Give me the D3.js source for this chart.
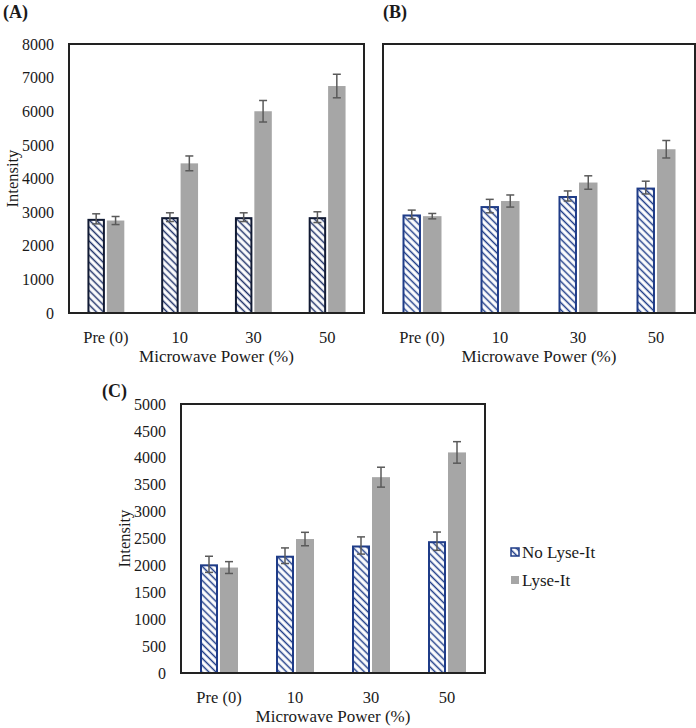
<!DOCTYPE html>
<html>
<head>
<meta charset="utf-8">
<script src="https://cdn.jsdelivr.net/npm/d3@7"></script>
<style>
  body { margin: 0; background: #fff; }
  svg { display: block; }
</style>
</head>
<body>
<svg id="chart" width="696" height="728"></svg>
<script>
// ---- data ----
const categories = ["Pre (0)", "10", "30", "50"];
const seriesNames = ["No Lyse-It", "Lyse-It"];

const panelA_noLyse = [2800, 2850, 2850, 2850];
const panelA_noLyseErr = [150, 130, 130, 160];
const panelA_lyse = [2750, 4450, 6000, 6750];
const panelA_lyseErr = [120, 220, 320, 350];

const panelB_noLyse = [2930, 3180, 3480, 3730];
const panelB_noLyseErr = [130, 200, 150, 190];
const panelB_lyse = [2880, 3330, 3880, 4870];
const panelB_lyseErr = [80, 180, 200, 260];

const panelC_noLyse = [2020, 2180, 2370, 2450];
const panelC_noLyseErr = [150, 145, 160, 170];
const panelC_lyse = [1960, 2490, 3640, 4100];
const panelC_lyseErr = [110, 125, 185, 200];

const ticksAB = [0, 1000, 2000, 3000, 4000, 5000, 6000, 7000, 8000];
const ticksC = [0, 500, 1000, 1500, 2000, 2500, 3000, 3500, 4000, 4500, 5000];

const xTitle = "Microwave Power (%)";
const yTitle = "Intensity";

// ---- drawing ----
const FONT = "'Liberation Serif', 'Times New Roman', Times, 'DejaVu Serif', serif";
const svg = d3.select("#chart");
const defs = svg.append("defs");

function styleText(sel, size, weight) {
  sel.style("font-family", FONT).style("font-size", size + "px")
     .style("font-weight", weight || "normal").style("fill", "#1a1a1a");
}

function makePattern(id, color) {
  const p = defs.append("pattern")
    .attr("id", id).attr("patternUnits", "userSpaceOnUse")
    .attr("width", 5).attr("height", 5)
    .attr("patternTransform", "rotate(45)");
  p.append("rect").attr("width", 5).attr("height", 5).attr("fill", "#fff");
  p.append("line").attr("x1", 0).attr("y1", 2.5).attr("x2", 5).attr("y2", 2.5)
    .attr("stroke", color).attr("stroke-width", 1.5);
}
makePattern("hatchA", "#1c2f66");
makePattern("hatchB", "#1f3c88");

const gray = "#a6a6a6";
const errColor = "#5a5a5a";

function panel(opt) {
  const g = svg.append("g");
  const x = d3.scaleBand().domain(categories).range([opt.x0, opt.x1]).padding(0);
  const inner = d3.scaleBand().domain(seriesNames)
    .range([x.bandwidth() * 0.25, x.bandwidth() * 0.75]).paddingInner(0.1);
  const y = d3.scaleLinear().domain([0, opt.ymax]).range([opt.y1, opt.y0]);

  const series = [
    { name: seriesNames[0], vals: opt.s1, errs: opt.e1 },
    { name: seriesNames[1], vals: opt.s2, errs: opt.e2 }
  ];
  series.forEach((s, si) => {
    categories.forEach((c, i) => {
      const bx = x(c) + inner(s.name);
      const bw = inner.bandwidth();
      if (si === 0) {
        g.append("rect")
          .attr("x", bx + 1).attr("y", y(s.vals[i]) + 1)
          .attr("width", bw - 2).attr("height", y(0) - y(s.vals[i]) - 1)
          .attr("fill", `url(#${opt.hatch})`)
          .attr("stroke", opt.border).attr("stroke-width", 2);
      } else {
        g.append("rect")
          .attr("x", bx).attr("y", y(s.vals[i]))
          .attr("width", bw).attr("height", y(0) - y(s.vals[i]))
          .attr("fill", gray);
      }
      const cx = bx + bw / 2;
      const yt = y(s.vals[i] + s.errs[i]), yb = y(s.vals[i] - s.errs[i]);
      g.append("line").attr("x1", cx).attr("x2", cx).attr("y1", yt).attr("y2", yb)
        .attr("stroke", errColor).attr("stroke-width", 1.5);
      [yt, yb].forEach(yy => g.append("line")
        .attr("x1", cx - 4).attr("x2", cx + 4).attr("y1", yy).attr("y2", yy)
        .attr("stroke", errColor).attr("stroke-width", 1.5));
    });
  });

  g.append("rect").attr("x", opt.x0).attr("y", opt.y0)
    .attr("width", opt.x1 - opt.x0).attr("height", opt.y1 - opt.y0)
    .attr("fill", "none").attr("stroke", "#222").attr("stroke-width", 2);

  const xa = g.append("g").attr("transform", `translate(0,${opt.y1})`)
    .call(d3.axisBottom(x).tickSize(0).tickPadding(18));
  xa.select(".domain").remove();
  styleText(xa.selectAll("text"), 16.5);

  if (opt.ticks) {
    const ya = g.append("g").attr("transform", `translate(${opt.x0},0)`)
      .call(d3.axisLeft(y).tickValues(opt.ticks).tickSize(0).tickPadding(15).tickFormat(d3.format("d")));
    ya.select(".domain").remove();
    styleText(ya.selectAll("text"), 16);
    styleText(g.append("text")
      .attr("transform", `translate(${opt.yTitleX},${(opt.y0 + opt.y1) / 2}) rotate(-90)`)
      .attr("text-anchor", "middle").attr("dy", "0.35em")
      .text(yTitle), 16.5);
  }

  styleText(g.append("text").attr("x", (opt.x0 + opt.x1) / 2).attr("y", opt.y1 + 49)
    .attr("text-anchor", "middle").text(xTitle), 17);

  styleText(g.append("text").attr("x", opt.lx).attr("y", opt.ly).text(opt.label), 18, "bold");
}

panel({ x0: 69, x1: 364, y0: 44, y1: 313, ymax: 8000, ticks: ticksAB, yTitleX: 12,
  s1: panelA_noLyse, e1: panelA_noLyseErr, s2: panelA_lyse, e2: panelA_lyseErr,
  hatch: "hatchA", border: "#111a33", label: "(A)", lx: 3, ly: 18 });
panel({ x0: 383, x1: 695, y0: 44, y1: 313, ymax: 8000, ticks: null,
  s1: panelB_noLyse, e1: panelB_noLyseErr, s2: panelB_lyse, e2: panelB_lyseErr,
  hatch: "hatchB", border: "#1f3c88", label: "(B)", lx: 383, ly: 18 });
panel({ x0: 181, x1: 485, y0: 404, y1: 673, ymax: 5000, ticks: ticksC, yTitleX: 124,
  s1: panelC_noLyse, e1: panelC_noLyseErr, s2: panelC_lyse, e2: panelC_lyseErr,
  hatch: "hatchB", border: "#1f3c88", label: "(C)", lx: 102, ly: 397 });

const lg = svg.append("g");
const legendY = [552, 580];
lg.append("rect").attr("x", 511).attr("y", legendY[0] - 4).attr("width", 8).attr("height", 8)
  .attr("fill", "url(#hatchB)").attr("stroke", "#1f3c88").attr("stroke-width", 1.5);
lg.append("rect").attr("x", 511).attr("y", legendY[1] - 4).attr("width", 8).attr("height", 8)
  .attr("fill", gray);
seriesNames.forEach((n, i) => styleText(lg.append("text").attr("x", 522).attr("y", legendY[i])
  .attr("dy", "0.35em").text(n), 17));
</script>
</body>
</html>
